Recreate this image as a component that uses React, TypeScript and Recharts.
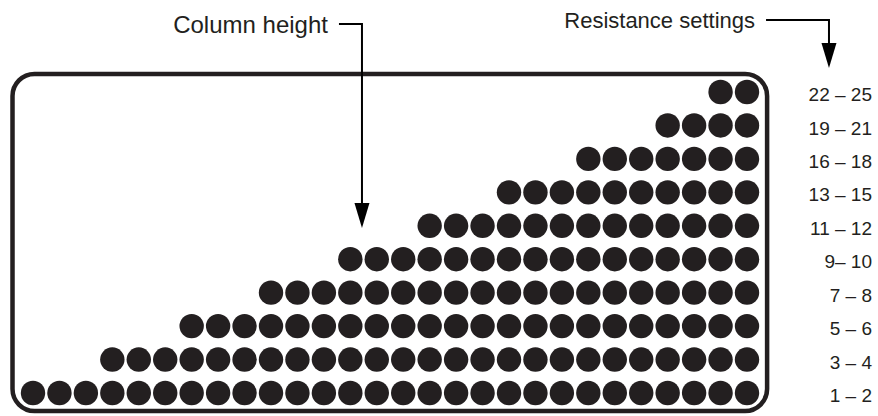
import { ScatterChart, Scatter, XAxis, YAxis, ReferenceArea, ReferenceLine } from "recharts";

// resistance settings, bottom row first
const settingLabels = ["1 – 2", "3 – 4", "5 – 6", "7 – 8", "9– 10", "11 – 12", "13 – 15", "16 – 18", "19 – 21", "22 – 25"];
// lit dots in each row (right aligned)
const dotsPerSetting = [28, 25, 22, 19, 16, 13, 10, 7, 4, 2];
const columnCount = 28;

const ink = "#231f20";
const font = "'Liberation Sans', Arial, Helvetica, sans-serif";

const dots = dotsPerSetting.flatMap((count, row) =>
  Array.from({ length: count }, (_, i) => ({ col: columnCount - count + i, row }))
);

const Dot = (props: any) => <circle cx={props.cx} cy={props.cy} r={12.2} fill={ink} />;

const SettingTick = ({ x, y, payload }: any) => (
  <text x={x} y={y} dy="0.48em" textAnchor="end" fontSize={19} fontFamily={font} fill={ink}>
    {settingLabels[payload.value]}
  </text>
);

const Frame = (props: any) => (
  <rect x={props.x} y={props.y} width={props.width} height={props.height} rx={22} ry={22} fill="none" stroke={ink} strokeWidth={4.5} />
);

// elbow arrow: horizontal from (x1,y1) to x2, then down to tip (x2,y2); caption left of it
const elbowArrow = (caption: string, size: number) => (props: any) => {
  const { x1, y1, x2, y2 } = props;
  const head = 25;
  return (
    <g>
      <text x={x1 - 11} y={y1} dy="0.36em" textAnchor="end" fontSize={size} fontFamily={font} fill={ink}>
        {caption}
      </text>
      <path d={`M${x1},${y1} H${x2} V${y2 - head + 2}`} fill="none" stroke="#000" strokeWidth={2} />
      <polygon points={`${x2 - 7.5},${y2 - head} ${x2 + 7.5},${y2 - head} ${x2},${y2}`} fill="#000" />
    </g>
  );
};

export default function App() {
  return (
    <div style={{ position: "absolute", left: 0, top: 0, background: "#fff" }}>
      <ScatterChart width={878} height={416} margin={{ top: 92, right: 0, bottom: 23, left: 33 }}>
        <XAxis type="number" dataKey="col" domain={[0, columnCount - 1]} hide />
        <YAxis
          type="number"
          dataKey="row"
          orientation="right"
          domain={[0, settingLabels.length - 1]}
          ticks={settingLabels.map((_, i) => i)}
          interval={0}
          width={131}
          axisLine={false}
          tickLine={false}
          tickSize={0}
          tickMargin={125}
          tick={<SettingTick />}
        />
        <ReferenceArea x1={-0.775} x2={27.76} y1={-0.54} y2={9.54} ifOverflow="visible" shape={<Frame />} />
        <Scatter data={dots} shape={<Dot />} isAnimationActive={false} />
        <ReferenceLine
          segment={[{ x: 11.57, y: 11.03 }, { x: 12.44, y: 4.93 }]}
          ifOverflow="visible"
          shape={elbowArrow("Column height", 24)}
        />
        <ReferenceLine
          segment={[{ x: 27.72, y: 11.15 }, { x: 30.1, y: 9.72 }]}
          ifOverflow="visible"
          shape={elbowArrow("Resistance settings", 22)}
        />
      </ScatterChart>
    </div>
  );
}
